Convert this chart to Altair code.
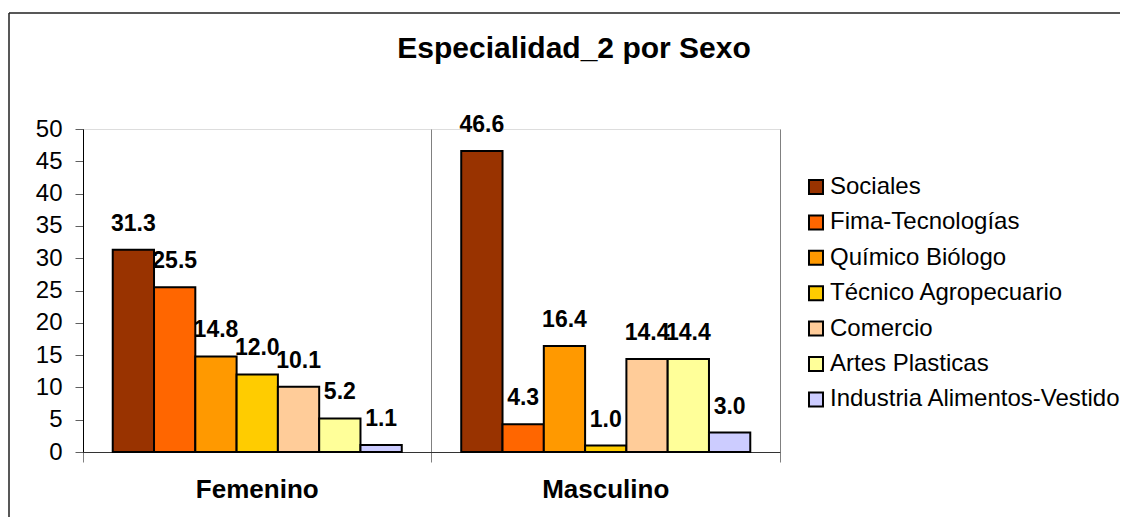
import altair as alt
import pandas as pd

sexos = ["Femenino", "Masculino"]
especialidades = ["Sociales", "Fima-Tecnologías", "Químico Biólogo", "Técnico Agropecuario",
                  "Comercio", "Artes Plasticas", "Industria Alimentos-Vestido"]
femenino = [31.3, 25.5, 14.8, 12.0, 10.1, 5.2, 1.1]
masculino = [46.6, 4.3, 16.4, 1.0, 14.4, 14.4, 3.0]
colores = ["#993300", "#FF6600", "#FF9900", "#FFCC00", "#FFCC99", "#FFFF99", "#CCCCFF"]
titulo = "Especialidad_2 por Sexo"

rows = []
for s, vals in zip(sexos, [femenino, masculino]):
    for e, v in zip(especialidades, vals):
        rows.append({"Sexo": s, "Especialidad": e, "Valor": v})
df = pd.DataFrame(rows)
one = pd.DataFrame({"k": [0]})

FONT = "Liberation Sans"

x = alt.X("Sexo:N", sort=sexos, title=None,
          scale=alt.Scale(paddingInner=0, paddingOuter=0),
          axis=alt.Axis(labelAngle=0, labelFont=FONT, labelFontSize=26, labelFontWeight="bold",
                        labelColor="black", bandPosition=1, tickExtra=True, tickSize=10,
                        tickColor="#808080", domainColor="#333333", grid=True,
                        gridColor="#808080", labelPadding=14))
xo = alt.XOffset("Especialidad:N", sort=especialidades,
                 scale=alt.Scale(paddingInner=0, paddingOuter=0.72))
y = alt.Y("Valor:Q", title=None, scale=alt.Scale(domain=[0, 50], nice=False),
          axis=alt.Axis(values=list(range(0, 51, 5)), labelFont=FONT, labelFontSize=24,
                        labelColor="black", tickSize=8, tickColor="#606060", domainColor="black",
                        grid=False, labelPadding=13))
color = alt.Color("Especialidad:N", sort=especialidades,
                  scale=alt.Scale(domain=especialidades, range=colores),
                  legend=alt.Legend(title=None, orient="none", legendX=721, legendY=46,
                                    symbolType="square", symbolSize=196, symbolStrokeColor="black",
                                    symbolStrokeWidth=2, labelFont=FONT, labelFontSize=24,
                                    labelColor="black", labelLimit=500, rowPadding=11.4,
                                    labelOffset=2))

bars = alt.Chart(df).mark_bar(stroke="black", strokeWidth=2).encode(
    x=x, xOffset=xo, y=y, color=color)

labels = alt.Chart(df).mark_text(dy=-19, baseline="alphabetic", fontWeight="bold",
                                 fontSize=23, font=FONT, color="black").encode(
    x=x, xOffset=xo, y=y, text=alt.Text("Valor:Q", format=".1f"))

title = alt.Chart(one).mark_text(text=titulo, font=FONT, fontSize=30, fontWeight="bold",
                                 color="black", align="center", baseline="alphabetic").encode(
    x=alt.value(491), y=alt.value(-71))

border_left = alt.Chart(one).mark_rule(color="#202020", strokeWidth=1.5).encode(
    x=alt.value(-74), y=alt.value(-116), y2=alt.value(500))
border_top = alt.Chart(one).mark_rule(color="#202020", strokeWidth=1.5).encode(
    x=alt.value(-74), x2=alt.value(1100), y=alt.value(-116))

chart = alt.layer(bars, labels, title, border_left, border_top).properties(
    width=697, height=323,
    autosize=alt.AutoSizeParams(type="none"),
    padding={"left": 75, "top": 121, "right": 340, "bottom": 65},
).configure_view(stroke="#808080", strokeWidth=1).configure(background="white")

chart.save("out.html", embed_options={"renderer": "svg", "actions": False})
